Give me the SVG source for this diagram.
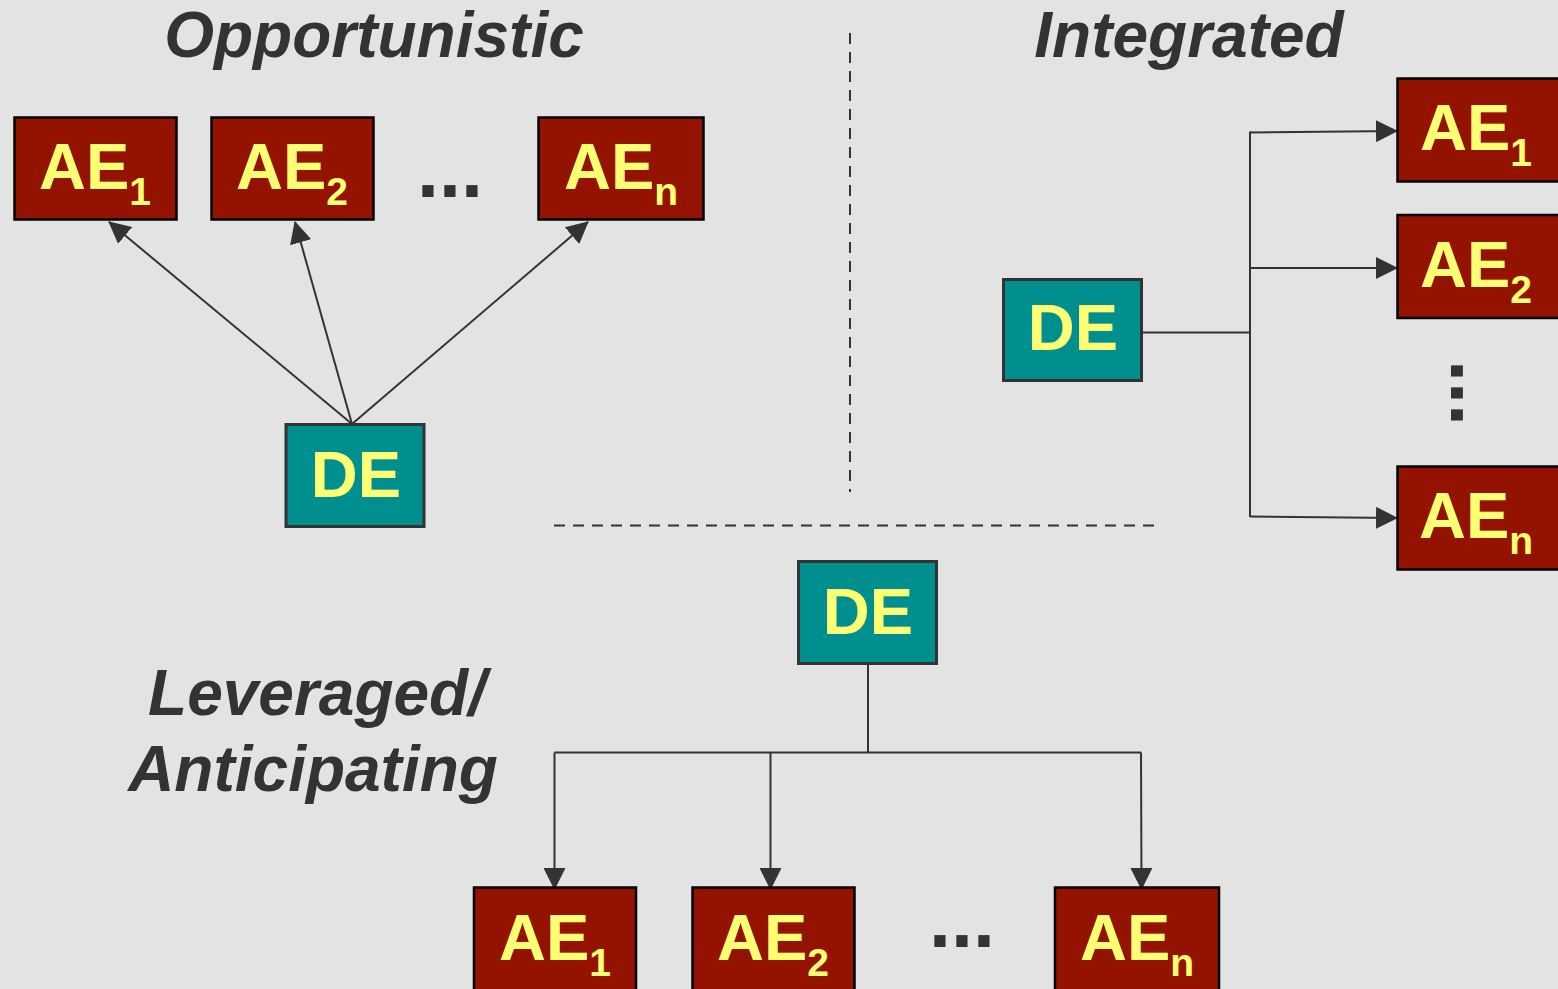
<svg xmlns="http://www.w3.org/2000/svg" width="1558" height="989" viewBox="0 0 1558 989">
  <defs>
    <style>
      .ae rect { fill: #941300; stroke: #000; stroke-width: 2.5; }
      .de rect { fill: #008f8f; stroke: #333; stroke-width: 3; }
      .lbl { font-family: "Liberation Sans", Arial, sans-serif; font-weight: bold; font-size: 65px; fill: #ffff73; text-anchor: middle; }
      .sub { font-size: 39px; }
      .title { font-family: "Liberation Sans", Arial, sans-serif; font-weight: bold; font-style: italic; font-size: 64px; fill: #333; }
      .dots { font-family: "Liberation Sans", Arial, sans-serif; font-weight: bold; font-size: 79px; fill: #333; }
      .link { fill: none; stroke: #333; stroke-width: 2; }
      .sep { fill: none; stroke: #333; stroke-width: 2; stroke-dasharray: 11 8; }
    </style>
    <marker id="arrow" viewBox="0 0 22 22" refX="21" refY="11" markerWidth="22" markerHeight="22" markerUnits="userSpaceOnUse" orient="auto">
      <path d="M0,0 L22,11 L0,22 Z" fill="#333"/>
    </marker>
  </defs>

  <rect x="0" y="0" width="1558" height="989" fill="#e3e3e3"/>

  <!-- section separators -->
  <g id="separators">
    <line class="sep" x1="850" y1="33" x2="850" y2="492"/>
    <line class="sep" x1="554" y1="525.5" x2="1158" y2="525.5"/>
  </g>

  <!-- section titles -->
  <g id="titles">
    <text class="title" x="374" y="57" text-anchor="middle">Opportunistic</text>
    <text class="title" x="1189" y="57" text-anchor="middle">Integrated</text>
    <text class="title" x="317" y="715" text-anchor="middle">Leveraged/</text>
    <text class="title" x="313" y="791" text-anchor="middle">Anticipating</text>
  </g>

  <!-- connectors -->
  <g id="connectors">
    <!-- opportunistic -->
    <line class="link" x1="352" y1="424" x2="109" y2="222" marker-end="url(#arrow)"/>
    <line class="link" x1="352" y1="424" x2="295" y2="222" marker-end="url(#arrow)"/>
    <line class="link" x1="352" y1="424" x2="588" y2="222" marker-end="url(#arrow)"/>
    <!-- integrated -->
    <line class="link" x1="1142" y1="332.5" x2="1250" y2="332.5"/>
    <line class="link" x1="1250" y1="131.5" x2="1250" y2="517"/>
    <line class="link" x1="1250" y1="132.5" x2="1397" y2="131" marker-end="url(#arrow)"/>
    <line class="link" x1="1250" y1="268" x2="1397" y2="268" marker-end="url(#arrow)"/>
    <line class="link" x1="1250" y1="516.5" x2="1397" y2="518" marker-end="url(#arrow)"/>
    <!-- leveraged / anticipating -->
    <line class="link" x1="868" y1="664" x2="868" y2="752.5"/>
    <line class="link" x1="554.5" y1="752.5" x2="1141" y2="752.5"/>
    <line class="link" x1="554.5" y1="752.5" x2="554.5" y2="889" marker-end="url(#arrow)"/>
    <line class="link" x1="770.5" y1="752.5" x2="770.5" y2="889" marker-end="url(#arrow)"/>
    <line class="link" x1="1141" y1="752.5" x2="1141.5" y2="889" marker-end="url(#arrow)"/>
  </g>

  <!-- opportunistic nodes -->
  <g id="opp-ae1" class="ae">
    <rect x="14.5" y="117.5" width="162" height="102"/>
    <text class="lbl" x="95" y="189">AE<tspan class="sub" dy="16">1</tspan></text>
  </g>
  <g id="opp-ae2" class="ae">
    <rect x="211.5" y="117.5" width="162" height="102"/>
    <text class="lbl" x="292" y="189">AE<tspan class="sub" dy="16">2</tspan></text>
  </g>
  <text id="opp-ellipsis" class="dots" x="417" y="197">...</text>
  <g id="opp-aen" class="ae">
    <rect x="538.5" y="117.5" width="165" height="102"/>
    <text class="lbl" x="621" y="189">AE<tspan class="sub" dy="16">n</tspan></text>
  </g>
  <g id="opp-de" class="de">
    <rect x="286" y="424.5" width="138" height="102"/>
    <text class="lbl" x="356" y="496.5">DE</text>
  </g>

  <!-- integrated nodes -->
  <g id="int-de" class="de">
    <rect x="1003.5" y="279.5" width="138" height="101"/>
    <text class="lbl" x="1073" y="350">DE</text>
  </g>
  <g id="int-ae1" class="ae">
    <rect x="1397.5" y="78.5" width="164" height="103"/>
    <text class="lbl" x="1476" y="150">AE<tspan class="sub" dy="16">1</tspan></text>
  </g>
  <g id="int-ae2" class="ae">
    <rect x="1397.5" y="215" width="164" height="103"/>
    <text class="lbl" x="1476" y="287">AE<tspan class="sub" dy="16">2</tspan></text>
  </g>
  <text id="int-ellipsis" class="dots" transform="translate(1451,360) rotate(90)" x="0" y="0">...</text>
  <g id="int-aen" class="ae">
    <rect x="1397.5" y="466.5" width="164" height="103"/>
    <text class="lbl" x="1476" y="538">AE<tspan class="sub" dy="16">n</tspan></text>
  </g>

  <!-- leveraged / anticipating nodes -->
  <g id="lev-de" class="de">
    <rect x="798.5" y="561.5" width="138" height="102"/>
    <text class="lbl" x="868" y="634">DE</text>
  </g>
  <g id="lev-ae1" class="ae">
    <rect x="474" y="887.5" width="162" height="110"/>
    <text class="lbl" x="555" y="960">AE<tspan class="sub" dy="16">1</tspan></text>
  </g>
  <g id="lev-ae2" class="ae">
    <rect x="692.5" y="887.5" width="162" height="110"/>
    <text class="lbl" x="773" y="960">AE<tspan class="sub" dy="16">2</tspan></text>
  </g>
  <text id="lev-ellipsis" class="dots" x="929" y="947">...</text>
  <g id="lev-aen" class="ae">
    <rect x="1055" y="887.5" width="164" height="110"/>
    <text class="lbl" x="1137" y="960">AE<tspan class="sub" dy="16">n</tspan></text>
  </g>
</svg>
